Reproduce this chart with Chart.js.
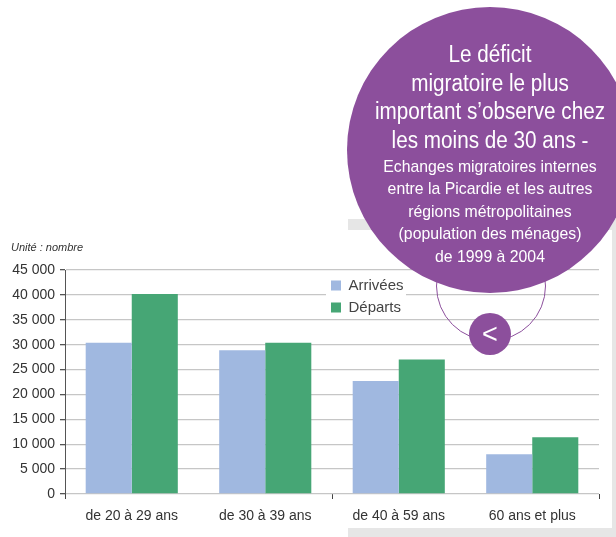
<!DOCTYPE html>
<html lang="fr">
<head>
<meta charset="utf-8">
<title>Echanges migratoires</title>
<script src="https://cdn.jsdelivr.net/npm/chart.js@4/dist/chart.umd.min.js"></script>
<style>
html,body{margin:0;padding:0;background:#fff;width:616px;height:537px;overflow:hidden}
#stage{position:relative;width:616px;height:537px;overflow:hidden}
#shade{position:absolute;left:348px;top:219px;width:268px;height:318px;background:#e6e6e6}
#panel{position:absolute;left:0;top:230px;width:612px;height:298px;background:#fff}
canvas{position:absolute;left:0;top:0}
#ring{position:absolute;left:436px;top:231px;width:108px;height:108px;border:1px solid #8c4f9c;border-radius:50%;box-sizing:content-box}
#bubble{position:absolute;left:347px;top:7px;width:286px;height:286px;border-radius:50%;background:#8c4f9c;color:#fff;text-align:center;font-family:"Liberation Sans",sans-serif}
#big{position:absolute;left:0;right:0;top:33px;font-size:23px;line-height:28.5px;white-space:nowrap;transform:scaleX(.9)}
#small{position:absolute;left:0;right:0;top:149px;font-size:17px;line-height:22.4px;white-space:nowrap;transform:scaleX(.93)}
#btn{position:absolute;left:469px;top:313px;width:42px;height:42px;border-radius:50%;background:#8c4f9c;color:#fff;text-align:center;font:normal 27px/42px "Liberation Sans",sans-serif}
</style>
</head>
<body>
<div id="stage">
<div id="shade"></div>
<div id="panel"></div>
<canvas id="c" width="616" height="537"></canvas>
<div id="ring"></div>
<div id="bubble">
<div id="big">Le déficit<br>migratoire le plus<br>important s’observe chez<br>les moins de 30 ans -</div>
<div id="small">Echanges migratoires internes<br>entre la Picardie et les autres<br>régions métropolitaines<br>(population des ménages)<br>de 1999 à 2004</div>
</div>
<div id="btn">&lt;</div>
</div>
<script>
const categories = ["de 20 à 29 ans", "de 30 à 39 ans", "de 40 à 59 ans", "60 ans et plus"];
const arrivees = [30400, 28900, 22700, 8000];
const departs = [40200, 30400, 27000, 11400];
const seriesNames = ["Arrivées", "Départs"];
const unitLabel = "Unité : nombre";

const legendPlacer = {
  id: "legendPlacer",
  afterLayout(chart) {
    const l = chart.legend;
    const w = l.width, h = l.height;
    l.left = 324; l.right = 324 + w; l.top = 271; l.bottom = 271 + h;
    if (!l._wrapped) {
      const draw = l.draw;
      l.draw = function () {
        const ctx = this.ctx;
        ctx.save();
        ctx.fillStyle = "#fff";
        ctx.fillRect(326, 280, 80, 34);
        ctx.restore();
        draw.call(this);
      };
      l._wrapped = true;
    }
  }
};

new Chart(document.getElementById("c"), {
  type: "bar",
  data: {
    labels: categories,
    datasets: [
      { label: seriesNames[0], data: arrivees, backgroundColor: "#a0b8e0", borderWidth: 0 },
      { label: seriesNames[1], data: departs, backgroundColor: "#46a675", borderWidth: 0 }
    ]
  },
  plugins: [legendPlacer],
  options: {
    responsive: false,
    animation: false,
    devicePixelRatio: 1,
    layout: { padding: { left: 11, right: 17, top: 0, bottom: 0 } },
    datasets: { bar: { barPercentage: 1, categoryPercentage: 0.69 } },
    plugins: {
      tooltip: { enabled: false },
      title: {
        display: true, text: unitLabel, align: "start", color: "#333",
        font: { family: "Liberation Sans", size: 11, style: "italic", weight: "normal", lineHeight: 1.2 },
        padding: { top: 241, bottom: 15.8 }
      },
      legend: {
        position: "chartArea", align: "start",
        labels: {
          boxWidth: 10, boxHeight: 10, padding: 7, color: "#444",
          font: { family: "Liberation Sans", size: 15 }
        }
      }
    },
    scales: {
      x: {
        afterFit(s) { s.height = 43; },
        border: { display: false },
        grid: {
          drawOnChartArea: false, drawTicks: true, tickLength: 5,
          color: (ctx) => (ctx.index % 2 === 1 ? "rgba(0,0,0,0)" : "#444")
        },
        ticks: { color: "#333", padding: 9, maxRotation: 0, font: { family: "Liberation Sans", size: 14 } }
      },
      y: {
        min: 0, max: 45000,
        afterFit(s) { s.width = 54; },
        border: { display: true, color: "#555", width: 1 },
        grid: { color: "#c6c6c6", lineWidth: 1.3, tickColor: "#555", tickLength: 5, drawTicks: true },
        ticks: {
          stepSize: 5000, color: "#333", padding: 5,
          font: { family: "Liberation Sans", size: 14 },
          callback(v) { return v === 0 ? "0" : String(v).replace(/(\d)(\d{3})$/, "$1 $2"); }
        }
      }
    }
  }
});
</script>
</body>
</html>
